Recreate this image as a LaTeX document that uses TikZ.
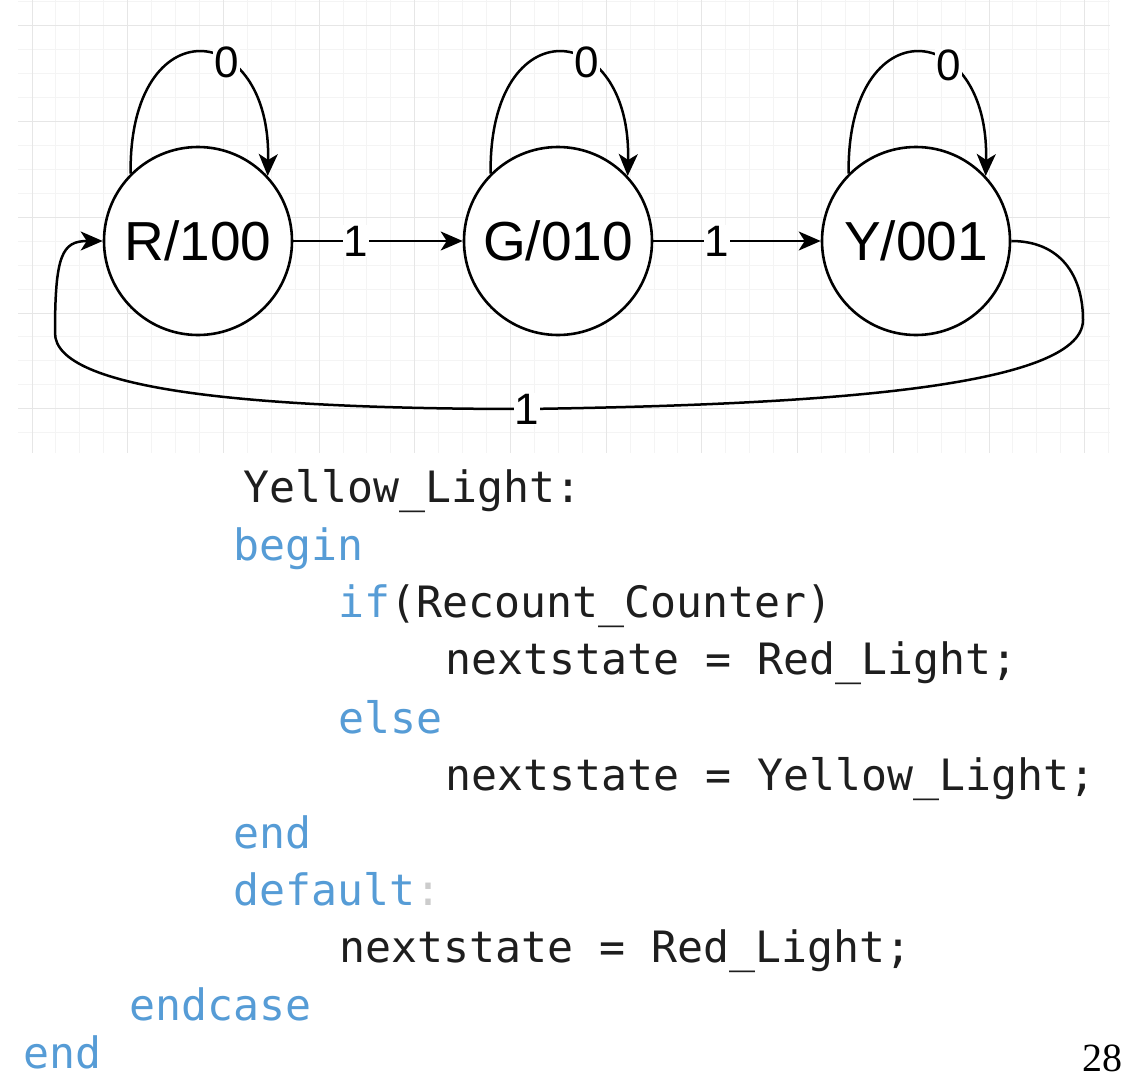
\documentclass[tikz,border=0pt]{standalone}
\usepackage{fontspec}
\setmainfont{Liberation Sans}
\newfontfamily\codefont{DejaVu Sans Mono}
\newfontfamily\pagefont{Liberation Serif}
\usetikzlibrary{arrows.meta}
\definecolor{kw}{HTML}{569CD6}
\definecolor{gridmajor}{HTML}{E6E6E6}
\definecolor{gridminor}{HTML}{F4F4F4}
\definecolor{codeblack}{HTML}{1E1E1E}
\definecolor{colongray}{HTML}{CCCCCC}
\begin{document}
\begin{tikzpicture}[x=1pt,y=-1pt,
  state/.style={circle, draw, line width=2.6pt, minimum size=188pt, inner sep=0pt, fill=white,
    font=\fontsize{55}{60}\selectfont},
  edge/.style={line width=2.5pt, -{Stealth[length=22pt,width=19pt,inset=6pt]}},
  elabel/.style={fill=white, inner sep=1pt, font=\fontsize{44}{46}\selectfont},
  code/.style={anchor=base west, inner sep=0pt, font=\codefont\fontsize{43.2}{50}\selectfont, text=codeblack},
  kwc/.style={code, text=kw}]
\useasboundingbox (0,0) rectangle (1125,1081);
\fill[white] (0,0) rectangle (1125,1081);
% grid
\foreach \i in {0,...,45} {
  \draw[gridminor, line width=1pt] ({32+23.925*\i},0) -- ({32+23.925*\i},453);
}
\foreach \j in {0,...,18} {
  \draw[gridminor, line width=1pt] (18,{2+23.925*\j}) -- (1110,{2+23.925*\j});
}
\foreach \i in {0,...,11} {
  \draw[gridmajor, line width=1pt] ({32+95.7*\i},0) -- ({32+95.7*\i},453);
}
\foreach \j in {0,...,4} {
  \draw[gridmajor, line width=1pt] (18,{26+95.7*\j}) -- (1110,{26+95.7*\j});
}
% states
\node[state] (R) at (198,241) {R/100};
\node[state] (G) at (558,241) {G/010};
\node[state] (Y) at (916,241) {Y/001};
% self loops
\draw[edge] (R.135) .. controls +(-2,-167) and +(4,-158) .. (R.43) node[elabel,pos=0.63] {0};
\draw[edge] (G.135) .. controls +(-2,-167) and +(4,-158) .. (G.43) node[elabel,pos=0.63] {0};
\draw[edge] (Y.135) .. controls +(-2,-167) and +(4,-158) .. (Y.43) node[elabel,pos=0.65] {0};
% forward edges
\draw[edge] (R.east) -- (G.west) node[elabel,pos=0.37] {1};
\draw[edge] (G.east) -- (Y.west) node[elabel,pos=0.38] {1};
% return edge
\draw[edge] (Y.east) .. controls (1060,241) and (1083,275) .. (1083,320)
  .. controls (1083,390) and (800,405) .. (527,409) coordinate (bl)
  .. controls (250,409) and (55,390) .. (55,333)
  .. controls (55,255) and (62,241) .. (R.west);
\node[elabel] (bll) at (bl) {1};
% code
\node[code] (l1) at (243,502) {Yellow\_Light:};
\node[kwc] (l2) at (233,560) {begin};
\node[code] (l3) at (338,617) {\textcolor{kw}{if}(Recount\_Counter)};
\node[code] (l4) at (445,674) {nextstate = Red\_Light;};
\node[kwc] (l5) at (338,733) {else};
\node[code] (l6) at (445,790) {nextstate = Yellow\_Light;};
\node[kwc] (l7) at (233,848) {end};
\node[kwc] (l8) at (233,905) {default\textcolor{colongray}{:}};
\node[code] (l9) at (339,962) {nextstate = Red\_Light;};
\node[kwc] (l10) at (129,1020) {endcase};
\node[kwc] (l11) at (23,1068) {end};
% page number
\node[anchor=base east, inner sep=0pt, font=\pagefont\fontsize{40}{44}\selectfont] (pg) at (1123,1071) {28};
\end{tikzpicture}
\end{document}
